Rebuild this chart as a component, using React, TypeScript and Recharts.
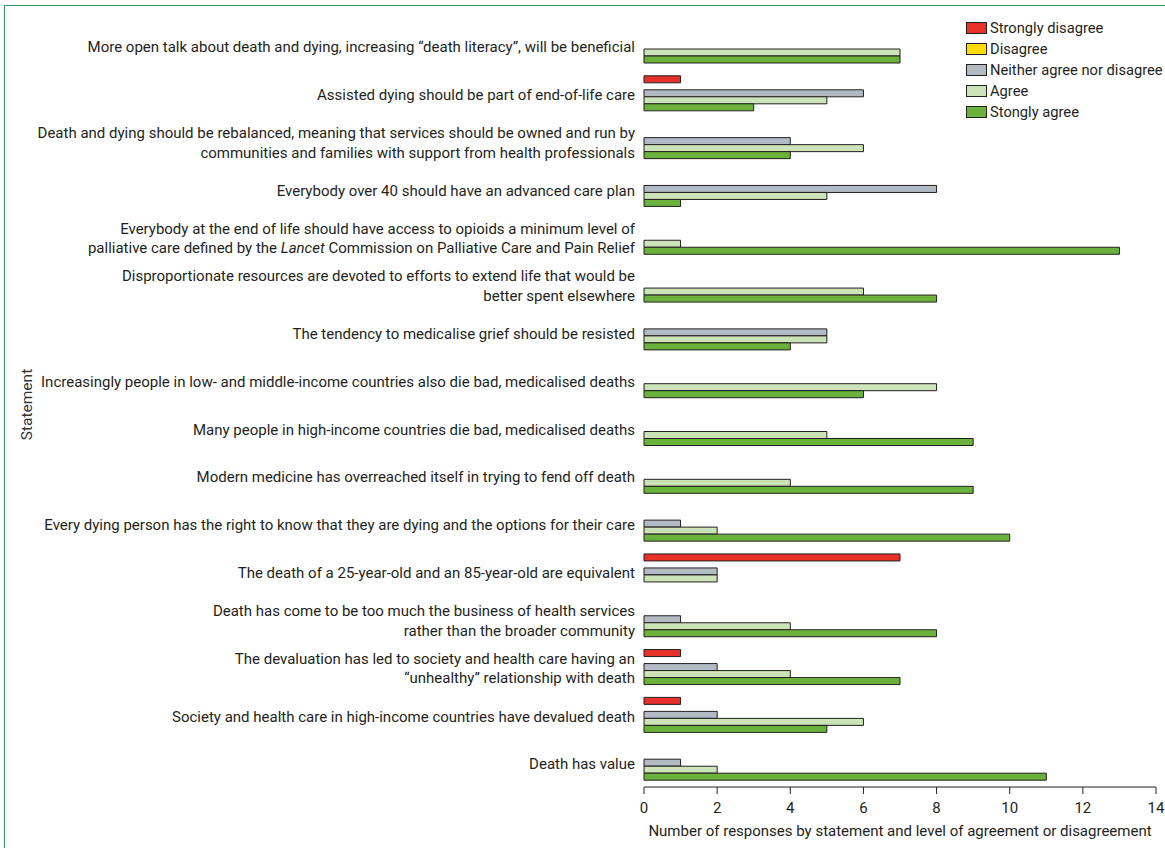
import React from 'react';
import { BarChart, Bar, XAxis, YAxis, Legend } from 'recharts';

// statements, top to bottom; '\n' splits lines, *text* is set in italics
const statements = [
  'More open talk about death and dying, increasing \u201cdeath literacy\u201d, will be beneficial',
  'Assisted dying should be part of end-of-life care',
  'Death and dying should be rebalanced, meaning that services should be owned and run by\ncommunities and families with support from health professionals',
  'Everybody over 40 should have an advanced care plan',
  'Everybody at the end of life should have access to opioids a minimum level of\npalliative care defined by the *Lancet* Commission on Palliative Care and Pain Relief',
  'Disproportionate resources are devoted to efforts to extend life that would be\nbetter spent elsewhere',
  'The tendency to medicalise grief should be resisted',
  'Increasingly people in low- and middle-income countries also die bad, medicalised deaths',
  'Many people in high-income countries die bad, medicalised deaths',
  'Modern medicine has overreached itself in trying to fend off death',
  'Every dying person has the right to know that they are dying and the options for their care',
  'The death of a 25-year-old and an 85-year-old are equivalent',
  'Death has come to be too much the business of health services\nrather than the broader community',
  'The devaluation has led to society and health care having an\n\u201cunhealthy\u201d relationship with death',
  'Society and health care in high-income countries have devalued death',
  'Death has value',
];

const stronglyDisagree = [0, 1, 0, 0, 0, 0, 0, 0, 0, 0, 0, 7, 0, 1, 1, 0];
const disagree = [0, 0, 0, 0, 0, 0, 0, 0, 0, 0, 0, 0, 0, 0, 0, 0];
const neither = [0, 6, 4, 8, 0, 0, 5, 0, 0, 0, 1, 2, 1, 2, 2, 1];
const agree = [7, 5, 6, 5, 1, 6, 5, 8, 5, 4, 2, 2, 4, 4, 6, 2];
const stronglyAgree = [7, 3, 4, 1, 13, 8, 4, 6, 9, 9, 10, 0, 8, 7, 5, 11];

const xTicks = [0, 2, 4, 6, 8, 10, 12, 14];
const boundaryTicks = Array.from({ length: statements.length + 1 }, (_, i) => i);

const series = [
  { key: 'sd', name: 'Strongly disagree', color: '#e8312a' },
  { key: 'd', name: 'Disagree', color: '#ffdc00' },
  { key: 'n', name: 'Neither agree nor disagree', color: '#b2bbc3' },
  { key: 'a', name: 'Agree', color: '#cce2b7' },
  { key: 'sa', name: 'Stongly agree', color: '#6bb23d' },
];

const data = statements.map((statement, i) => ({
  statement,
  sd: stronglyDisagree[i],
  d: disagree[i],
  n: neither[i],
  a: agree[i],
  sa: stronglyAgree[i],
}));

const FONT = 'Roboto, "Open Sans", sans-serif';
const INK = '#231f20';

function renderLine(line: string) {
  const parts = line.split('*');
  return parts.map((p, i) => (
    <tspan key={i} fontStyle={i % 2 === 1 ? 'italic' : 'normal'}>
      {p}
    </tspan>
  ));
}

function StatementTick({ x, y, payload }: any) {
  const lines = String(payload.value).split('\n');
  const lh = 19.5;
  const start = y + 1 - ((lines.length - 1) * lh) / 2;
  return (
    <text
      x={x}
      y={start}
      textAnchor="end"
      fontSize={15}
      fontFamily={FONT}
      fill={INK}
    >
      {lines.map((l, i) => (
        <tspan key={i} x={x} y={start + i * lh} dy="0.35em">
          {renderLine(l)}
        </tspan>
      ))}
    </text>
  );
}

function LegendContent() {
  return (
    <div style={{ fontFamily: FONT, fontSize: 14.7, color: INK }}>
      {series.map((s) => (
        <div
          key={s.key}
          style={{ display: 'flex', alignItems: 'center', height: 20.9 }}
        >
          <span
            style={{
              display: 'inline-block',
              width: 19,
              height: 10,
              background: s.color,
              border: '1px solid #231f20',
              marginRight: 3,
              flex: 'none',
            }}
          />
          <span style={{ whiteSpace: 'nowrap' }}>{s.name}</span>
        </div>
      ))}
    </div>
  );
}

export default function App() {
  return (
    <div
      style={{
        position: 'fixed',
        left: 0,
        top: 0,
        width: 1165,
        height: 848,
        background: '#fff',
        overflow: 'hidden',
      }}
    >
      <BarChart
        width={1165}
        height={848}
        data={data}
        layout="vertical"
        margin={{ top: 22, right: 9, left: 0, bottom: 0 }}
        barSize={7}
        barGap={0}
        style={{ position: 'absolute', left: 0, top: 0 }}
      >
        <XAxis
          type="number"
          domain={[0, 14]}
          ticks={xTicks}
          height={61}
          tickSize={7}
          tickMargin={8}
          stroke={INK}
          tick={{ fill: INK, fontSize: 15, fontFamily: FONT }}
          label={(props: any) => {
            const vb = props.viewBox;
            return (
              <text
                x={vb.x + vb.width / 2}
                y={vb.y + 44}
                textAnchor="middle"
                dy="0.35em"
                fontSize={15}
                fontFamily={FONT}
                fill={INK}
              >
                Number of responses by statement and level of agreement or disagreement
              </text>
            );
          }}
        />
        <YAxis
          yAxisId="bounds"
          orientation="left"
          type="number"
          domain={[0, statements.length]}
          ticks={boundaryTicks}
          allowDataOverflow
          width={0}
          tickSize={6}
          tick={false}
          stroke={INK}
        />
        <YAxis
          type="category"
          dataKey="statement"
          width={644}
          tickLine={false}
          axisLine={false}
          tickSize={6}
          tickMargin={3}
          interval={0}
          tick={<StatementTick />}
          label={(props: any) => {
            const vb = props.viewBox;
            const cx = 27;
            const cy = vb.y + vb.height / 2;
            return (
              <text
                x={cx}
                y={cy}
                transform={`rotate(-90, ${cx}, ${cy})`}
                textAnchor="middle"
                dy="0.35em"
                fontSize={15.5}
                fontFamily={FONT}
                fill="#333"
              >
                Statement
              </text>
            );
          }}
        />
        <Legend
          layout="vertical"
          align="center"
          verticalAlign="middle"
          content={<LegendContent />}
          wrapperStyle={{ top: 18, left: 966, width: 199, height: 110 }}
        />
        {series.map((s) => (
          <Bar
            key={s.key}
            dataKey={s.key}
            name={s.name}
            fill={s.color}
            stroke="#231f20"
            strokeWidth={1}
            isAnimationActive={false}
          />
        ))}
      </BarChart>
      <div
        style={{
          position: 'absolute',
          left: 4,
          top: 5,
          right: 0,
          bottom: 0,
          borderLeft: '1px solid #2f9a5c',
          borderTop: '1px solid #2f9a5c',
          pointerEvents: 'none',
          zIndex: 2,
        }}
      />
    </div>
  );
}
